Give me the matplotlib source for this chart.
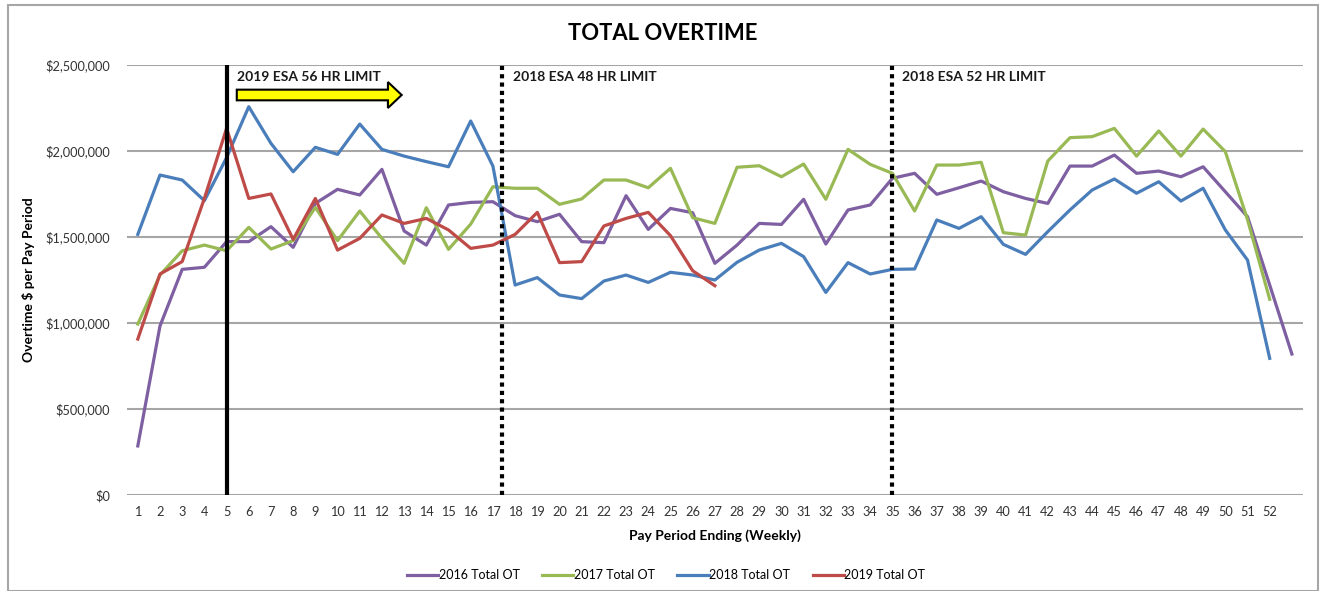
import numpy as np
import matplotlib.pyplot as plt
from matplotlib.patches import FancyArrow, Rectangle
from matplotlib.ticker import FuncFormatter

plt.rcParams['font.family'] = ['Lato', 'DejaVu Sans']

weeks_2016 = np.arange(1, 54)
weeks_2017 = np.arange(1, 53)
weeks_2018 = np.arange(1, 53)
weeks_2019 = np.arange(1, 28)

ot_2016 = [285000, 982000, 1311000, 1323000, 1472000, 1472000, 1559000, 1439000, 1694000, 1776000,
           1743000, 1892000, 1534000, 1452000, 1685000, 1700000, 1704000, 1623000, 1588000, 1631000,
           1472000, 1466000, 1739000, 1543000, 1665000, 1640000, 1346000, 1452000, 1578000, 1572000,
           1718000, 1458000, 1656000, 1685000, 1840000, 1869000, 1747000, 1785000, 1824000, 1762000,
           1723000, 1694000, 1911000, 1911000, 1975000, 1869000, 1882000, 1849000, 1907000, 1762000,
           1617000, 1220000, 819000]
ot_2017 = [993000, 1278000, 1419000, 1452000, 1419000, 1555000, 1429000, 1478000, 1671000, 1478000,
           1650000, 1491000, 1346000, 1669000, 1427000, 1574000, 1791000, 1782000, 1782000, 1689000,
           1720000, 1830000, 1830000, 1785000, 1898000, 1611000, 1578000, 1904000, 1913000, 1849000,
           1923000, 1718000, 2008000, 1921000, 1869000, 1650000, 1917000, 1917000, 1933000, 1524000,
           1510000, 1940000, 2076000, 2082000, 2130000, 1969000, 2115000, 1969000, 2126000, 1995000,
           1600000, 1137000]
ot_2018 = [1514000, 1859000, 1830000, 1710000, 1960000, 2256000, 2043000, 1878000, 2020000, 1979000,
           2155000, 2008000, 1969000, 1937000, 1907000, 2173000, 1911000, 1220000, 1263000, 1162000,
           1141000, 1243000, 1278000, 1235000, 1294000, 1278000, 1249000, 1352000, 1423000, 1462000,
           1385000, 1177000, 1350000, 1284000, 1311000, 1313000, 1598000, 1549000, 1617000, 1456000,
           1398000, 1530000, 1656000, 1772000, 1836000, 1753000, 1820000, 1708000, 1782000, 1540000,
           1365000, 794000]
ot_2019 = [906000, 1284000, 1356000, 1723000, 2130000, 1723000, 1749000, 1485000, 1723000, 1423000,
           1491000, 1627000, 1578000, 1607000, 1540000, 1433000, 1452000, 1514000, 1642000, 1350000,
           1356000, 1563000, 1607000, 1642000, 1507000, 1303000, 1216000]

limit_lines = [5, 17.4, 35]
limit_labels = ['2019 ESA 56 HR LIMIT', '2018 ESA 48 HR LIMIT', '2018 ESA 52 HR LIMIT']
label_x = [5.46, 17.9, 35.43]

fig = plt.figure(figsize=(13.2, 5.91), dpi=100)
ax = fig.add_axes([126.7 / 1320, 1 - 495 / 591, (1303 - 126.7) / 1320, (495 - 64.7) / 591])

# chart border
fig.patches.append(Rectangle((7.5 / 1320, 0), (1318 - 7.5) / 1320, 1 - 5 / 591,
                             transform=fig.transFigure, fill=False, ec='#a6a6a6', lw=1.5))

ax.plot(weeks_2016, ot_2016, color='#7e5fa2', lw=2.3, label='2016 Total OT', zorder=3)
ax.plot(weeks_2017, ot_2017, color='#98b954', lw=2.3, label='2017 Total OT', zorder=3)
ax.plot(weeks_2018, ot_2018, color='#4a7ebb', lw=2.3, label='2018 Total OT', zorder=3)
ax.plot(weeks_2019, ot_2019, color='#be4b48', lw=2.3, label='2019 Total OT', zorder=3)

ax.axvline(limit_lines[0], color='black', lw=3, zorder=4)
for xv in limit_lines[1:]:
    ax.axvline(xv, color='black', lw=3, linestyle=(0, (1, 1)), zorder=4)

for xt, txt in zip(label_x, limit_labels):
    ax.text(xt, 2429000, txt, fontsize=10, fontweight='bold', va='center', ha='left', color='#1a1a1a')

ax.add_patch(FancyArrow(5.46, 2324000, 7.43, 0, width=62000, head_width=151000, head_length=0.62,
                        length_includes_head=True, fc='#ffff00', ec='black', lw=1.5, zorder=5))

ax.set_xlim(0.5, 53.5)
ax.set_ylim(0, 2500000)
ax.set_xticks(np.arange(1, 53))
ax.set_yticks(np.arange(0, 2500001, 500000))
ax.yaxis.set_major_formatter(FuncFormatter(lambda v, p: '${:,.0f}'.format(v)))
ax.tick_params(length=0, labelsize=9.2, colors='#333333', pad=8)
ax.tick_params(axis='y', pad=12)
ax.grid(axis='y', color='#a6a6a6', lw=1.5)
ax.set_axisbelow(True)
for s in ax.spines.values():
    s.set_visible(False)

ax.set_title('TOTAL OVERTIME', fontsize=15.8, fontweight='bold', pad=18, x=0.456)
ax.set_xlabel('Pay Period Ending (Weekly)', fontsize=10, fontweight='bold', labelpad=8)
ax.set_ylabel('Overtime $ per Pay Period', fontsize=10, fontweight='bold')
ax.yaxis.set_label_coords(-0.078, 0.5)

ax.legend(loc='center', bbox_to_anchor=(0.4585, -0.186), ncol=4, frameon=False, fontsize=9,
          handlelength=2.5, handletextpad=0.05, columnspacing=1.8)

fig.savefig('out.png', dpi=100)
